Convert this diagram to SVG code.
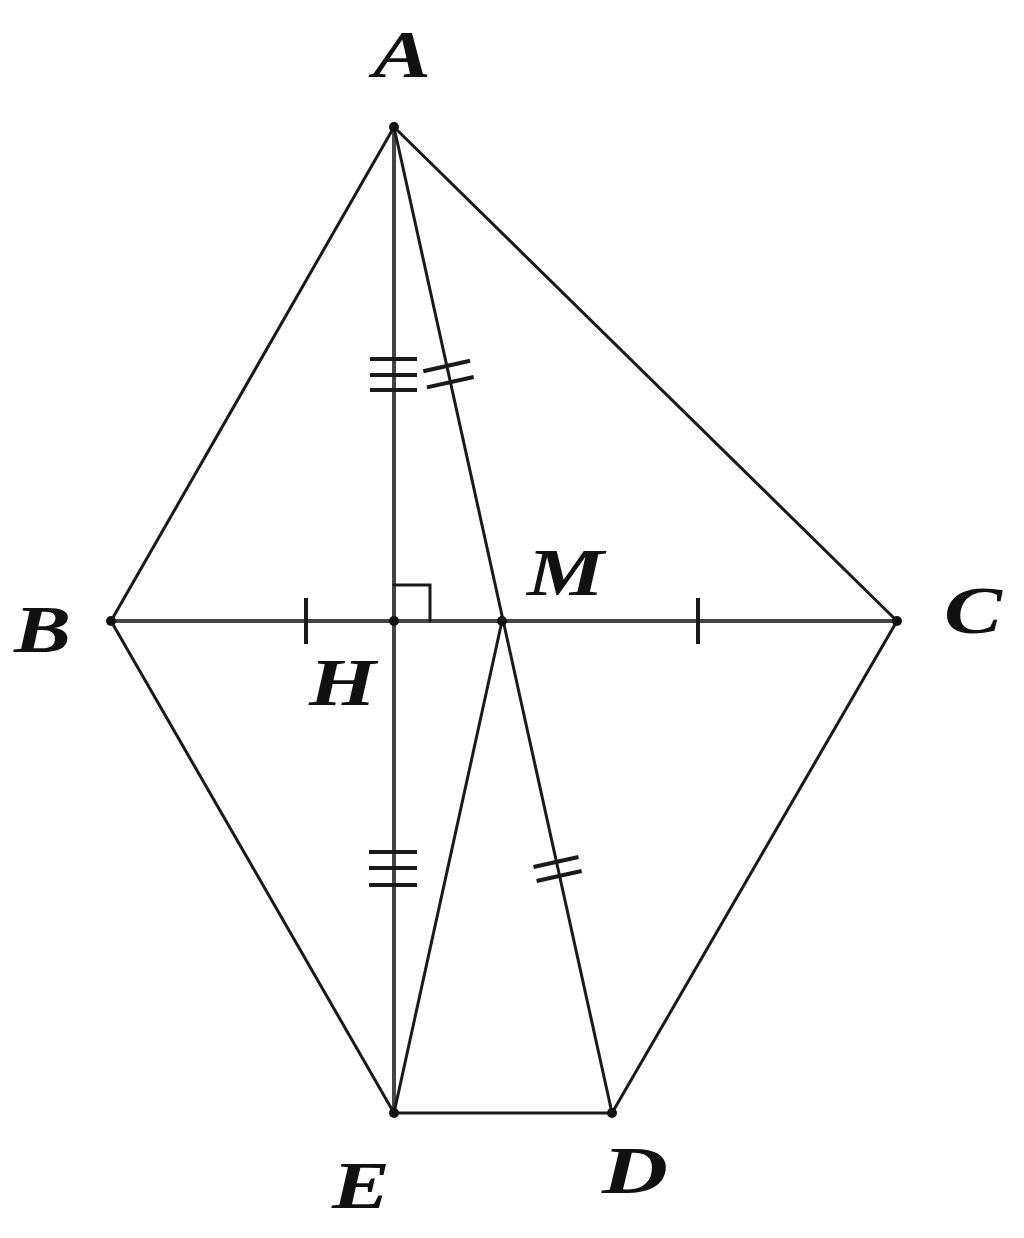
<svg xmlns="http://www.w3.org/2000/svg" width="1024" height="1238" viewBox="0 0 1024 1238">
<style>
.ln{stroke:#1a1a1a;stroke-width:3;fill:none;stroke-linecap:round}
.gl{stroke:#444;stroke-width:4;fill:none}
.tk{stroke:#1a1a1a;stroke-width:4;fill:none}
.pt{fill:#111}
.lb{font-family:"Liberation Serif","Times New Roman",serif;font-style:italic;font-weight:bold;font-size:68px;fill:#111}
</style>
<rect width="1024" height="1238" fill="#fff"/>
<g id="connectors">
<line class="ln" x1="394" y1="127" x2="111" y2="621"/>
<line class="ln" x1="394" y1="127" x2="897" y2="621"/>
<line class="gl" x1="394" y1="127" x2="394" y2="1113"/>
<line class="ln" x1="394" y1="127" x2="612" y2="1113"/>
<line class="gl" x1="111" y1="621" x2="897" y2="621"/>
<line class="ln" x1="111" y1="621" x2="394" y2="1113"/>
<line class="ln" x1="897" y1="621" x2="612" y2="1113"/>
<line class="ln" x1="394" y1="1113" x2="502" y2="621"/>
<line class="ln" x1="394" y1="1113" x2="612" y2="1113"/>
<path class="ln" d="M394 585 H430 V621"/>
</g>
<g id="ticks">
<line class="tk" x1="306" y1="598" x2="306" y2="644"/>
<line class="tk" x1="698" y1="598" x2="698" y2="644"/>
<line class="tk" x1="370" y1="359" x2="417" y2="359"/>
<line class="tk" x1="370" y1="375" x2="417" y2="375"/>
<line class="tk" x1="370" y1="390" x2="417" y2="390"/>
<line class="tk" x1="369" y1="852" x2="417" y2="852"/>
<line class="tk" x1="369" y1="868" x2="417" y2="868"/>
<line class="tk" x1="369" y1="885" x2="417" y2="885"/>
<line class="tk" x1="423.3" y1="371.2" x2="470.1" y2="360.8"/>
<line class="tk" x1="426.9" y1="387.4" x2="473.7" y2="377"/>
<line class="tk" x1="533.5" y1="867" x2="578.5" y2="857"/>
<line class="tk" x1="536.6" y1="881" x2="581.6" y2="871"/>
</g>
<g id="A"><circle class="pt" cx="394" cy="127" r="5"/><text class="lb" x="373" y="77" textLength="58" lengthAdjust="spacingAndGlyphs">A</text></g>
<g id="B"><circle class="pt" cx="111" cy="621" r="5"/><text class="lb" x="14" y="652" textLength="57" lengthAdjust="spacingAndGlyphs">B</text></g>
<g id="C"><circle class="pt" cx="897" cy="621" r="5"/><text class="lb" x="944" y="633" textLength="58" lengthAdjust="spacingAndGlyphs">C</text></g>
<g id="H"><circle class="pt" cx="394" cy="621" r="5"/><text class="lb" x="309" y="705" textLength="67" lengthAdjust="spacingAndGlyphs">H</text></g>
<g id="M"><circle class="pt" cx="502" cy="621" r="5"/><text class="lb" x="527" y="595" textLength="77" lengthAdjust="spacingAndGlyphs">M</text></g>
<g id="E"><circle class="pt" cx="394" cy="1113" r="5"/><text class="lb" x="332" y="1208" textLength="58" lengthAdjust="spacingAndGlyphs">E</text></g>
<g id="D"><circle class="pt" cx="612" cy="1113" r="5"/><text class="lb" x="602" y="1193" textLength="66" lengthAdjust="spacingAndGlyphs">D</text></g>
</svg>
